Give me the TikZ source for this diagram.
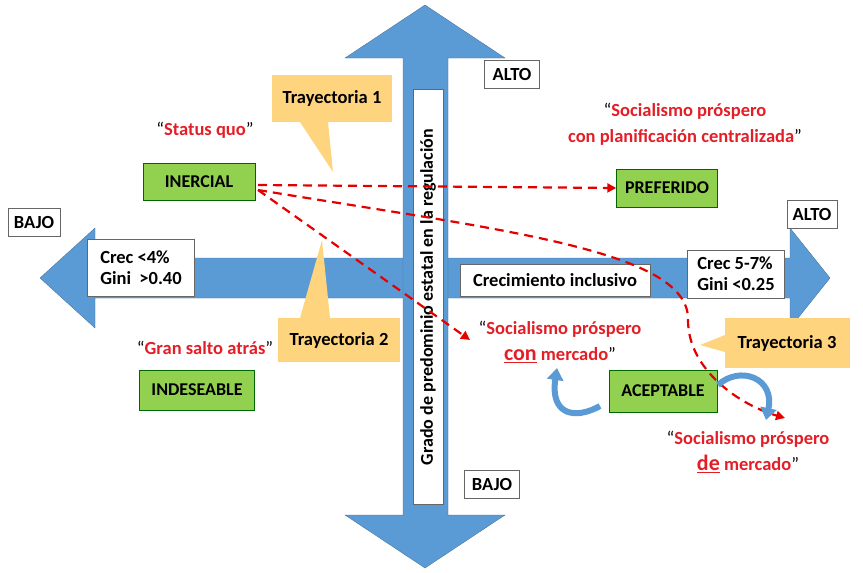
\documentclass[tikz,border=0pt]{standalone}
\usepackage{fontspec}
\setmainfont{Carlito}
\usetikzlibrary{arrows.meta}
\definecolor{ablue}{HTML}{5B9BD5}
\definecolor{agreen}{HTML}{92D050}
\definecolor{callc}{HTML}{FFD47F}
\definecolor{tred}{HTML}{E41E26}
\tikzset{
 wbox/.style={draw=black!60,fill=white,font=\bfseries\fontsize{18.5}{21}\selectfont,align=left,inner sep=3pt},
 gbox/.style={draw=green!40!black,fill=agreen,font=\bfseries\fontsize{18}{20}\selectfont,minimum height=27pt},
 rtext/.style={text=tred,font=\bfseries\fontsize{18.5}{26}\selectfont,align=center},
 traj/.style={red!90!black,line width=2.2pt,dash pattern=on 9pt off 6pt,-{Triangle[length=9pt,width=9pt]}},
 calltext/.style={font=\bfseries\fontsize{18.5}{20}\selectfont},
 barrow/.style={ablue,line width=5pt,-{Triangle[length=12pt,width=16pt]}}
}
\begin{document}
\begin{tikzpicture}[x=1pt,y=-1pt]
\useasboundingbox (0,0) rectangle (863,573);
% axes
\fill[ablue,draw=ablue!70!black,line width=0.3pt] (40,278)--(95,228)--(95,258)--(790,258)--(790,228)--(830,278)--(790,328)--(790,298)--(95,298)--(95,328)--cycle;
\fill[ablue,draw=ablue!70!black,line width=0.3pt] (425,5)--(505,58)--(448,58)--(448,515)--(505,515)--(425,568)--(345,515)--(403,515)--(403,58)--(345,58)--cycle;
% vertical label
\node[draw=black!60,fill=white,minimum width=415pt,minimum height=30pt,inner sep=1pt,rotate=90,font=\bfseries\fontsize{18}{20}\selectfont] (vlab) at (428,297) {Grado de predominio estatal en la regulación};
\node[wbox,minimum width=190pt,minimum height=32pt,align=center] (ci) at (555,280) {Crecimiento inclusivo};
\node[wbox,minimum width=107pt,minimum height=57pt] (lbox) at (141,268) {Crec <4\%\\Gini \ >0.40};
\node[wbox,minimum width=97pt,minimum height=48pt] (rbox) at (736,274) {Crec 5-7\%\\Gini <0.25};
\node[wbox,minimum width=52pt,minimum height=28pt,align=center] (bajol) at (34,222) {BAJO};
\node[wbox,minimum width=55pt,minimum height=28pt,align=center] (altot) at (512,74) {ALTO};
\node[wbox,minimum width=50pt,minimum height=28pt,align=center] (altor) at (812,214) {ALTO};
\node[wbox,minimum width=55pt,minimum height=28pt,align=center] (bajob) at (492,484) {BAJO};
% green boxes
\node[gbox,minimum width=112pt,minimum height=37pt] (iner) at (199,182) {INERCIAL};
\node[gbox,minimum width=101pt,minimum height=38pt] (pref) at (667,188) {PREFERIDO};
\node[gbox,minimum width=115pt,minimum height=40pt] (indes) at (197,390) {INDESEABLE};
\node[gbox,minimum width=108pt,minimum height=42pt] (acep) at (663,391) {ACEPTABLE};
% callouts
\fill[callc] (272,75) rectangle (392,122);
\fill[callc] (300,122)--(333,172)--(328,122)--cycle;
\node[calltext] (t1) at (332,98) {Trayectoria 1};
\fill[callc] (278,318) rectangle (400,362);
\fill[callc] (300,318)--(322,240)--(330,318)--cycle;
\node[calltext] (t2) at (339,340) {Trayectoria 2};
\fill[callc] (725,318) rectangle (850,368);
\fill[callc] (725,335)--(700,345)--(725,352)--cycle;
\node[calltext] (t3) at (787,343) {Trayectoria 3};
% red texts
\node[rtext] (sq) at (205,130) {\textcolor{black}{\mdseries``}Status quo\textcolor{black}{\mdseries''}};
\node[rtext] (spc) at (685,124) {\textcolor{black}{\mdseries``}Socialismo próspero\\con planificación centralizada\textcolor{black}{\mdseries''}};
\node[rtext] (gsa) at (205,348) {\textcolor{black}{\mdseries``}Gran salto atrás\textcolor{black}{\mdseries''}};
\node[rtext] (scm) at (560,342) {\textcolor{black}{\mdseries``}Socialismo próspero\\{\fontsize{22}{24}\selectfont\underline{con}} mercado\textcolor{black}{\mdseries''}};
\node[rtext] (sdm) at (748,452) {\textcolor{black}{\mdseries``}Socialismo próspero\\{\fontsize{22}{24}\selectfont\underline{de}} mercado\textcolor{black}{\mdseries''}};
% trajectories
\coordinate (s) at (258,185);
\coordinate (s2) at (258,190);
\draw[traj] (s) -- (pref.west);
\draw[traj] (s2) -- (470,340);
\draw[traj] (s2) .. controls (500,230) and (690,250) .. (688,320) .. controls (688,370) and (740,405) .. (785,418);
% blue curved arrows
\draw[barrow,line width=6pt] (600,406) .. controls (575,420) and (550,415) .. (557,368);
\draw[barrow,line width=6pt] (718,385) .. controls (740,365) and (775,378) .. (766,420);
\end{tikzpicture}
\end{document}
